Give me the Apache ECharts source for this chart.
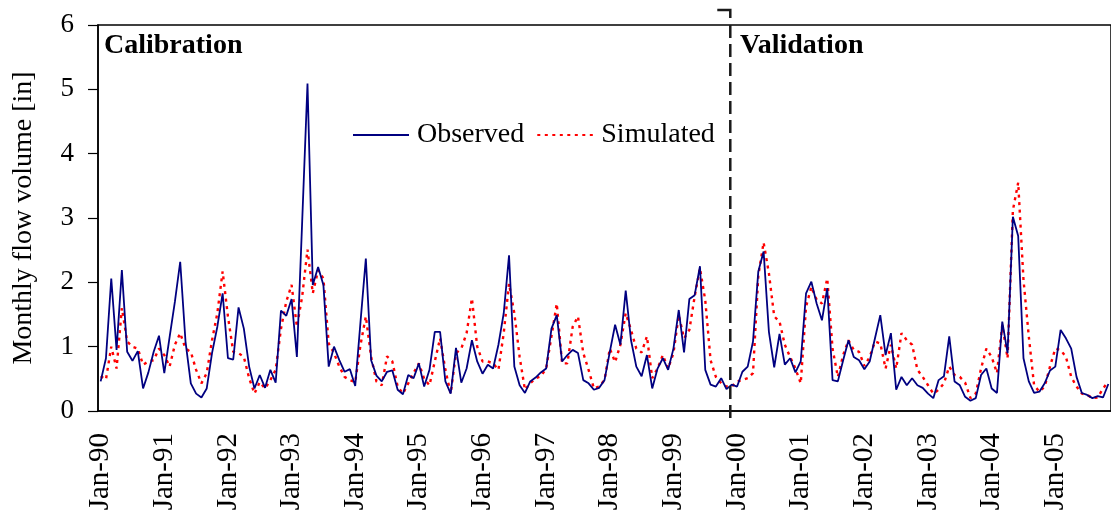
<!DOCTYPE html>
<html>
<head>
<meta charset="utf-8">
<script src="https://cdn.jsdelivr.net/npm/echarts@6/dist/echarts.min.js"></script>
<style>
  html, body { margin: 0; padding: 0; background: #fff; }
  #chart { width: 1111px; height: 515px; }
</style>
</head>
<body>
<div id="chart"></div>
<script>
// Monthly flow volume [in], Jan-1990 .. Nov-2005
const startYear = 1990;
const monthCount = 191;
const monthNames = ['Jan','Feb','Mar','Apr','May','Jun','Jul','Aug','Sep','Oct','Nov','Dec'];

const observed = [
  0.46, 0.82, 2.06, 0.95, 2.19, 0.92, 0.78, 0.93, 0.35, 0.60, 0.92, 1.17,
  0.59, 1.15, 1.70, 2.32, 1.08, 0.43, 0.27, 0.21, 0.35, 0.90, 1.31, 1.83,
  0.82, 0.80, 1.61, 1.28, 0.69, 0.35, 0.56, 0.36, 0.64, 0.44, 1.56, 1.48,
  1.74, 0.84, 2.95, 5.09, 1.96, 2.24, 1.96, 0.69, 1.00, 0.79, 0.61, 0.65,
  0.39, 1.39, 2.37, 0.79, 0.55, 0.46, 0.61, 0.63, 0.33, 0.26, 0.56, 0.51,
  0.74, 0.38, 0.64, 1.23, 1.23, 0.46, 0.27, 0.98, 0.44, 0.66, 1.10, 0.77,
  0.58, 0.72, 0.66, 1.03, 1.52, 2.42, 0.69, 0.40, 0.28, 0.46, 0.52, 0.60,
  0.66, 1.28, 1.49, 0.77, 0.87, 0.95, 0.90, 0.48, 0.43, 0.33, 0.36, 0.48,
  0.92, 1.34, 1.03, 1.87, 1.10, 0.69, 0.54, 0.87, 0.35, 0.66, 0.82, 0.64,
  0.97, 1.57, 0.91, 1.74, 1.80, 2.25, 0.64, 0.41, 0.38, 0.51, 0.34, 0.41,
  0.38, 0.61, 0.69, 1.08, 2.17, 2.48, 1.23, 0.68, 1.20, 0.72, 0.82, 0.60,
  0.77, 1.83, 2.01, 1.67, 1.41, 1.91, 0.48, 0.46, 0.79, 1.10, 0.84, 0.79,
  0.65, 0.77, 1.13, 1.49, 0.87, 1.21, 0.33, 0.53, 0.40, 0.51, 0.40, 0.36,
  0.27, 0.20, 0.48, 0.54, 1.16, 0.46, 0.40, 0.22, 0.16, 0.20, 0.56, 0.66,
  0.35, 0.28, 1.39, 0.90, 3.02, 2.72, 0.82, 0.46, 0.28, 0.30, 0.43, 0.63,
  0.69, 1.26, 1.13, 0.97, 0.53, 0.28, 0.25, 0.20, 0.23, 0.21, 0.42
];

const simulated = [
  0.54, 0.49, 1.00, 0.66, 1.60, 1.08, 1.00, 0.97, 0.72, 0.77, 0.79, 0.97,
  0.87, 0.69, 1.03, 1.21, 0.97, 0.92, 0.64, 0.43, 0.59, 1.10, 1.52, 2.17,
  1.47, 0.92, 0.90, 0.84, 0.51, 0.27, 0.45, 0.35, 0.48, 0.64, 1.28, 1.70,
  1.96, 1.31, 1.78, 2.51, 1.83, 2.19, 2.06, 1.05, 0.90, 0.69, 0.53, 0.48,
  0.45, 1.03, 1.47, 0.84, 0.46, 0.40, 0.85, 0.77, 0.38, 0.27, 0.43, 0.59,
  0.74, 0.50, 0.40, 0.77, 1.13, 0.64, 0.27, 0.90, 0.97, 1.21, 1.75, 1.00,
  0.77, 0.77, 0.74, 0.64, 1.21, 1.98, 1.52, 0.84, 0.33, 0.43, 0.51, 0.54,
  0.66, 1.16, 1.67, 0.74, 0.74, 1.31, 1.47, 0.90, 0.64, 0.35, 0.38, 0.48,
  0.97, 0.76, 1.03, 1.52, 1.26, 0.97, 0.91, 1.16, 0.51, 0.66, 0.87, 0.66,
  0.90, 1.49, 1.13, 1.26, 1.78, 2.22, 1.72, 0.79, 0.53, 0.43, 0.38, 0.38,
  0.46, 0.48, 0.51, 0.59, 2.10, 2.62, 2.14, 1.47, 1.39, 1.03, 0.84, 0.66,
  0.43, 1.62, 1.93, 1.73, 1.67, 2.06, 0.97, 0.53, 0.87, 1.10, 0.95, 0.92,
  0.70, 0.84, 1.08, 1.05, 0.66, 1.03, 0.66, 1.21, 1.10, 1.03, 0.64, 0.53,
  0.40, 0.27, 0.33, 0.43, 0.69, 0.56, 0.53, 0.44, 0.20, 0.27, 0.66, 0.97,
  0.84, 0.59, 1.34, 0.82, 3.12, 3.55, 2.04, 1.16, 0.40, 0.30, 0.38, 0.69,
  0.97, 0.95, 0.84, 0.53, 0.38, 0.27, 0.25, 0.20, 0.21, 0.35, 0.46
];

// Month labels such as "Jan-90"
const months = [];
for (let i = 0; i < monthCount; i++) {
  const y = (startYear + Math.floor(i / 12)) % 100;
  months.push(monthNames[i % 12] + '-' + String(y).padStart(2, '0'));
}

const periodLabels = ['Calibration', 'Validation'];
const splitMonth = 'Dec-99'; // last calibration month

const SERIF = 'Liberation Serif, Times New Roman, serif';

const chart = echarts.init(document.getElementById('chart'), null, { renderer: 'canvas' });

chart.setOption({
  animation: false,
  backgroundColor: '#ffffff',
  textStyle: { fontFamily: SERIF, color: '#000' },
  grid: {
    left: 98, right: -1, top: 25, bottom: 104,
    show: true, borderColor: '#000', borderWidth: 1.5, backgroundColor: 'transparent'
  },
  legend: {
    left: 352, top: 121, padding: 0,
    itemWidth: 56, itemHeight: 14, itemGap: 12,
    itemStyle: { opacity: 0 },
    textStyle: { fontFamily: SERIF, fontSize: 28, color: '#000', padding: [0, 0, 0, 3] },
    data: ['Observed', 'Simulated']
  },
  title: [
    { text: periodLabels[0], left: 104, top: 32, padding: 0,
      textStyle: { fontFamily: SERIF, fontWeight: 'bold', fontSize: 28, color: '#000' } },
    { text: periodLabels[1], left: 740, top: 32, padding: 0,
      textStyle: { fontFamily: SERIF, fontWeight: 'bold', fontSize: 28, color: '#000' } }
  ],
  xAxis: {
    type: 'category',
    data: months,
    boundaryGap: true,
    axisLine: { lineStyle: { color: '#000', width: 1.5 } },
    axisTick: {
      inside: false, length: 9,
      interval: (idx) => idx % 12 === 0,
      lineStyle: { color: '#000', width: 1.2 }
    },
    axisLabel: {
      interval: (idx) => idx % 12 === 0,
      rotate: 90, margin: 22,
      fontFamily: SERIF, fontSize: 29, color: '#000'
    },
    splitLine: { show: false }
  },
  yAxis: {
    type: 'value',
    min: 0, max: 6, interval: 1,
    name: 'Monthly flow volume [in]',
    nameLocation: 'middle',
    nameGap: 60,
    nameTextStyle: { fontFamily: SERIF, fontSize: 28, color: '#000' },
    axisLine: { show: true, lineStyle: { color: '#000', width: 1.5 } },
    axisTick: { show: true, inside: false, length: 10, lineStyle: { color: '#000', width: 1.2 } },
    axisLabel: { margin: 24, fontFamily: SERIF, fontSize: 27, color: '#000' },
    splitLine: { show: false }
  },
  series: [
    {
      name: 'Observed', type: 'line', data: observed,
      symbol: 'none', showSymbol: false,
      lineStyle: { color: '#000080', width: 1.8 },
      itemStyle: { color: '#000080' },
      z: 3
    },
    {
      name: 'Simulated', type: 'line', data: simulated,
      symbol: 'none', showSymbol: false,
      lineStyle: { color: '#ff0000', width: 2.4, type: [3, 4.5] },
      itemStyle: { color: '#ff0000' },
      z: 2
    }
  ]
});

// Dashed divider between the calibration and validation periods
const xSplit = chart.convertToPixel({ xAxisIndex: 0 }, months.indexOf(splitMonth)) - 1.5;
chart.setOption({
  graphic: [
    {
      type: 'polyline', silent: true, z: 10,
      shape: { points: [[xSplit - 13, 10], [xSplit, 10], [xSplit, 18]] },
      style: { stroke: '#1a1a1a', lineWidth: 2.5, fill: null }
    },
    {
      type: 'line', silent: true, z: 10,
      shape: { x1: xSplit, y1: 25, x2: xSplit, y2: 421 },
      style: { stroke: '#1a1a1a', lineWidth: 2.5, lineDash: [13, 6] }
    }
  ]
});
</script>
</body>
</html>
